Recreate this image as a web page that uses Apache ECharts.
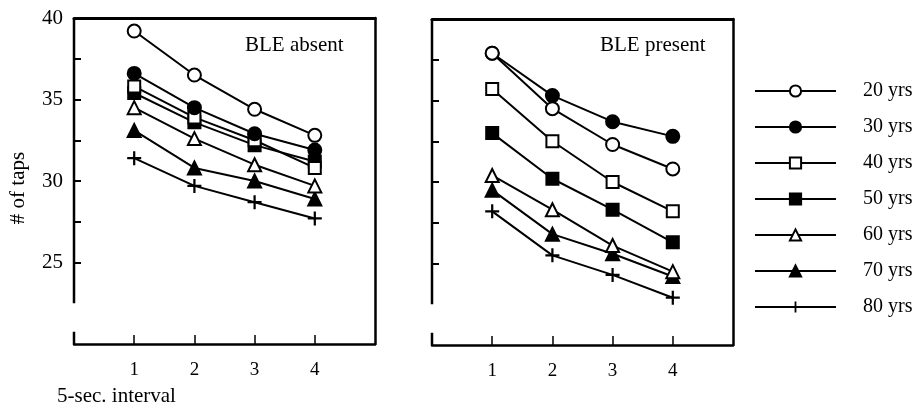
<!DOCTYPE html>
<html>
<head>
<meta charset="utf-8">
<script src="https://cdn.jsdelivr.net/npm/echarts@6/dist/echarts.min.js"></script>
<style>html,body{margin:0;padding:0;background:#fff;}#c{width:917px;height:403px;}</style>
</head>
<body>
<div id="c"></div>
<script>
// ---- data ----
const intervals = [1, 2, 3, 4];
const groupNames = ['20 yrs', '30 yrs', '40 yrs', '50 yrs', '60 yrs', '70 yrs', '80 yrs'];
// BLE absent panel
const absent20 = [39.2, 36.5, 34.4, 32.8];
const absent30 = [36.6, 34.5, 32.9, 31.9];
const absent40 = [35.8, 33.9, 32.5, 30.8];
const absent50 = [35.4, 33.6, 32.2, 31.2];
const absent60 = [34.5, 32.6, 31.0, 29.7];
const absent70 = [33.1, 30.8, 30.0, 28.9];
const absent80 = [31.4, 29.7, 28.7, 27.7];
// BLE present panel
const present20 = [37.9, 34.5, 32.3, 30.8];
const present30 = [37.9, 35.3, 33.7, 32.8];
const present40 = [35.7, 32.5, 30.0, 28.2];
const present50 = [33.0, 30.2, 28.3, 26.3];
const present60 = [30.4, 28.3, 26.1, 24.5];
const present70 = [29.5, 26.8, 25.6, 24.2];
const present80 = [28.2, 25.5, 24.3, 22.9];
const yTickValues = [25, 27.5, 30, 32.5, 35, 37.5];
const yLabelValues = [25, 30, 35, 40];
const xTickLabels = ['1', '2', '3', '4'];
const panelTitles = ['BLE absent', 'BLE present'];
const yTitle = '# of taps';
const xTitle = '5-sec. interval';

const absentSets = [absent20, absent30, absent40, absent50, absent60, absent70, absent80];
const presentSets = [present20, present30, present40, present50, present60, present70, present80];

// ---- style ----
const FONT = 'Liberation Serif';
const plusPath = 'path://M4.2,0 H5.8 V4.2 H10 V5.8 H5.8 V10 H4.2 V5.8 H0 V4.2 H4.2 Z';
const markers = [
  {symbol: 'circle', size: 13, fill: '#fff'},
  {symbol: 'circle', size: 13, fill: '#000'},
  {symbol: 'rect', size: 12, fill: '#fff'},
  {symbol: 'rect', size: 12, fill: '#000'},
  {symbol: 'triangle', size: 13, fill: '#fff'},
  {symbol: 'triangle', size: 13, fill: '#000'},
  {symbol: plusPath, size: 14, fill: '#000'}
];

const chart = echarts.init(document.getElementById('c'));

const grids = [
  {left: 74, top: 18, width: 301, height: 326},
  {left: 432, top: 19, width: 301, height: 326}
];

function bottomX(gi) {
  return {
    type: 'value', gridIndex: gi, min: 0, max: 5, position: 'bottom',
    axisLine: {show: true, onZero: false, lineStyle: {color: '#000', width: 2.5}},
    axisTick: {show: true, inside: true, length: 9, customValues: intervals, lineStyle: {color: '#000', width: 1.5}},
    axisLabel: {show: true, customValues: intervals, margin: 17, color: '#000', fontFamily: FONT, fontSize: 19,
      formatter: v => xTickLabels[intervals.indexOf(v)]},
    splitLine: {show: false}
  };
}
function topX(gi) {
  return {
    type: 'value', gridIndex: gi, min: 0, max: 5, position: 'top',
    axisLine: {show: true, onZero: false, lineStyle: {color: '#000', width: 3}},
    axisTick: {show: false}, axisLabel: {show: false}, splitLine: {show: false}
  };
}
function leftY(gi, showLabels) {
  return {
    type: 'value', gridIndex: gi, min: 20, max: 40, position: 'left',
    axisLine: {show: false},
    axisTick: {show: true, inside: true, length: 7, customValues: yTickValues, lineStyle: {color: '#000', width: 2}},
    axisLabel: {show: showLabels, customValues: yLabelValues, margin: 11, color: '#000', fontFamily: FONT, fontSize: 21},
    splitLine: {show: false}
  };
}
function rightY(gi) {
  return {
    type: 'value', gridIndex: gi, min: 20, max: 40, position: 'right',
    axisLine: {show: true, onZero: false, lineStyle: {color: '#000', width: 2.5}},
    axisTick: {show: false}, axisLabel: {show: false}, splitLine: {show: false}
  };
}

const series = [];
[absentSets, presentSets].forEach((sets, gi) => {
  sets.forEach((vals, i) => {
    const m = markers[i];
    series.push({
      name: groupNames[i], type: 'line', xAxisIndex: gi * 2, yAxisIndex: gi * 2,
      data: intervals.map((x, k) => [x, vals[k]]),
      symbol: m.symbol, symbolSize: m.size, showAllSymbol: true,
      lineStyle: {color: '#000', width: 2},
      itemStyle: {color: m.fill, borderColor: '#000', borderWidth: i === 6 ? 0 : 2},
      emphasis: {disabled: true}, animation: false, z: 10 - i
    });
  });
  // broken left axis line
  [[40, 22.5], [20.75, 20]].forEach(seg => {
    series.push({
      type: 'line', xAxisIndex: gi * 2, yAxisIndex: gi * 2, clip: false, silent: true,
      data: [[0, seg[0]], [0, seg[1]]], symbol: 'none',
      lineStyle: {color: '#000', width: 2.5}, animation: false
    });
  });
});

chart.setOption({
  backgroundColor: '#fff',
  animation: false,
  grid: grids,
  title: [
    {text: panelTitles[0], left: 240, top: 30, textStyle: {fontFamily: FONT, fontSize: 21, fontWeight: 'normal', color: '#000'}},
    {text: panelTitles[1], left: 595, top: 30, textStyle: {fontFamily: FONT, fontSize: 21, fontWeight: 'normal', color: '#000'}}
  ],
  xAxis: [bottomX(0), topX(0), bottomX(1), topX(1)],
  yAxis: [leftY(0, true), rightY(0), leftY(1, false), rightY(1)],
  legend: {
    data: groupNames, orient: 'vertical', left: 749, top: 76,
    itemWidth: 81, itemHeight: 14, itemGap: 16,
    textStyle: {fontFamily: FONT, fontSize: 20, color: '#000', padding: [0, 0, 0, 22]},
    selectedMode: false
  },
  graphic: [
    {type: 'text', x: 18, y: 188, rotation: Math.PI / 2,
      style: {text: yTitle, font: '21px "Liberation Serif"', fill: '#000', textAlign: 'center', textVerticalAlign: 'middle'}},
    {type: 'text', x: 57, y: 396,
      style: {text: xTitle, font: '21px "Liberation Serif"', fill: '#000', textAlign: 'left', textVerticalAlign: 'middle'}}
  ],
  series: series
});
</script>
</body>
</html>
